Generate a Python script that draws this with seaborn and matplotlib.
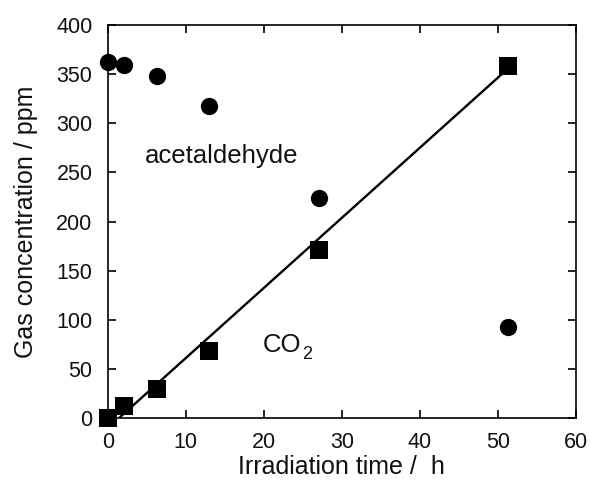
import numpy as np
import pandas as pd
import matplotlib
matplotlib.use("Agg")
import matplotlib.pyplot as plt
import seaborn as sns

# Data
acet_time = [0.0, 2.1, 6.3, 13.0, 27.1, 51.3]
acet_ppm = [363, 360, 348, 318, 224, 92]
co2_time = [0.0, 2.1, 6.3, 13.0, 27.1, 51.3]
co2_ppm = [0, 12, 29, 68, 171, 359]
fit_time = [1.5, 51.3]
fit_ppm = [0, 356]
x_ticks = [0, 10, 20, 30, 40, 50, 60]
y_ticks = [0, 50, 100, 150, 200, 250, 300, 350, 400]

sns.set_theme(style="ticks")
plt.rcParams['font.family'] = ['Liberation Sans', 'DejaVu Sans']
plt.rcParams['text.color'] = '#111111'
plt.rcParams['axes.labelcolor'] = '#111111'

fig = plt.figure(figsize=(5.9, 4.83), dpi=100)
ax = fig.add_axes([107.7 / 590, 1 - 417.7 / 483, (576 - 107.7) / 590, (417.7 - 25.3) / 483])

df_a = pd.DataFrame({"t": acet_time, "c": acet_ppm})
df_c = pd.DataFrame({"t": co2_time, "c": co2_ppm})
df_f = pd.DataFrame({"t": fit_time, "c": fit_ppm})

sns.lineplot(data=df_f, x="t", y="c", ax=ax, color="black", linewidth=1.7, zorder=2)
sns.scatterplot(data=df_a, x="t", y="c", ax=ax, marker="o", s=155, color="black",
                edgecolor="black", linewidth=0, zorder=3, clip_on=False)
sns.scatterplot(data=df_c, x="t", y="c", ax=ax, marker="s", s=155, color="black",
                edgecolor="black", linewidth=0, zorder=3, clip_on=False)

ax.set_xlim(0, 60)
ax.set_ylim(0, 400)
ax.set_xticks(x_ticks)
ax.set_yticks(y_ticks)
ax.tick_params(direction="in", length=5.8, width=1.2, top=True, right=True,
               labelsize=15.5, colors="black", labelcolor="#111111")
ax.tick_params(axis="x", pad=10)
ax.tick_params(axis="y", pad=11)
for s in ax.spines.values():
    s.set_linewidth(1.2)
    s.set_color("black")
ax.set_xlabel("Irradiation time /  h", fontsize=18, labelpad=2)
ax.set_ylabel("Gas concentration / ppm", fontsize=18, labelpad=13)

ax.text(4.8, 260, "acetaldehyde", fontsize=18.5, ha="left", va="baseline")
ax.text(19.9, 67, "CO", fontsize=18.5, ha="left", va="baseline")
ax.annotate("2", xy=(19.9, 67), xytext=(39, -7), textcoords="offset pixels",
            fontsize=13, ha="left", va="baseline")

fig.savefig("out.png", dpi=100)
